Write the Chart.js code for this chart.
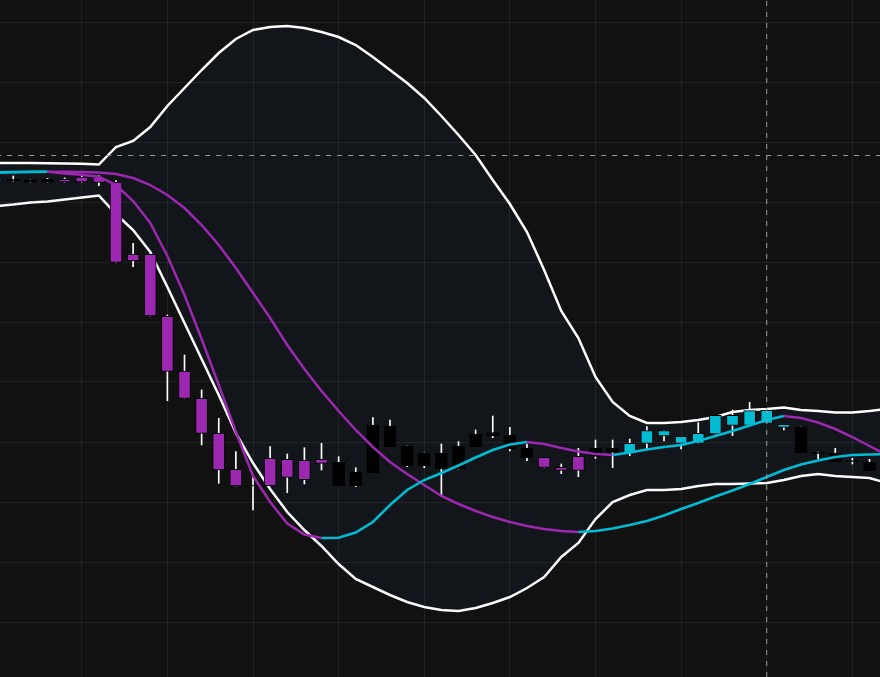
<!DOCTYPE html>
<html>
<head>
<meta charset="utf-8">
<title>Bollinger bands</title>
<script src="https://cdn.jsdelivr.net/npm/chart.js@4.4.1/dist/chart.umd.min.js"></script>
<style>
    html, body { margin: 0; padding: 0; background: #111111; overflow: hidden; }
    #chart { display: block; }
</style>
</head>
<body>
<canvas id="chart" width="880" height="677"></canvas>
<script>
// Session number of the first candle (it sits half off the left edge)
const firstSession = -1;

// Candles
const opens  = [50.2, 50.3, 50.25, 50.27, 50.27, 50.5, 50.5, 50.0, 42.77, 42.77, 36.57, 31.1, 28.37, 24.87, 21.27, 19.7, 22.37, 22.27, 22.17, 22.27, 21.97, 21.0, 20.93, 25.6, 23.6, 21.63, 22.9, 21.3, 23.53, 24.63, 24.7, 23.4, 22.47, 21.47, 22.57, 22.57, 23.37, 22.93, 23.87, 24.6, 23.87, 23.87, 24.8, 25.67, 25.67, 25.87, 25.47, 25.5, 23.0, 22.87, 22.13, 22.0];
const highs  = [50.4, 50.6, 50.25, 50.37, 50.4, 50.63, 50.63, 50.13, 43.87, 42.77, 36.7, 32.7, 29.2, 26.37, 23.03, 20.5, 23.53, 22.8, 23.43, 23.87, 22.53, 21.43, 26.43, 26.2, 23.6, 22.9, 23.8, 24.03, 25.2, 26.6, 25.47, 23.8, 22.47, 21.8, 23.37, 24.2, 24.2, 24.3, 25.53, 25.13, 24.57, 25.93, 26.67, 27.2, 27.97, 27.17, 25.77, 25.5, 23.0, 23.37, 22.37, 22.27];
const lows   = [50.2, 50.1, 49.95, 49.97, 50.0, 50.0, 49.63, 41.97, 41.53, 36.6, 28.13, 28.37, 23.7, 19.87, 19.6, 17.2, 19.63, 18.93, 19.8, 21.2, 19.63, 19.53, 20.93, 23.53, 21.53, 21.43, 18.6, 21.3, 23.53, 24.43, 23.1, 22.13, 21.47, 20.83, 20.53, 22.37, 21.43, 22.63, 23.3, 24.1, 23.3, 23.87, 24.8, 24.63, 25.67, 25.87, 25.2, 22.93, 22.3, 22.03, 21.8, 21.13];
const closes = [50.4, 50.1, 49.95, 49.97, 50.0, 50.0, 49.97, 41.97, 42.1, 36.6, 31.07, 28.37, 24.87, 21.2, 19.6, 19.6, 19.63, 20.47, 20.23, 21.87, 19.63, 19.63, 25.7, 23.53, 21.63, 22.9, 21.3, 23.6, 24.8, 24.93, 23.3, 22.43, 21.47, 21.17, 21.17, 23.37, 22.97, 23.87, 25.13, 25.13, 24.57, 24.87, 26.67, 26.67, 27.13, 27.17, 25.77, 22.93, 22.83, 22.03, 22.03, 21.13];
// -1 sell signal, 0 none, 1 buy signal
const signals = [1, 0, 0, 0, -1, -1, -1, -1, -1, -1, -1, -1, -1, -1, -1, 0, -1, -1, -1, -1, 0, 0, 0, 0, 0, 0, 0, 0, 0, 0, 0, 0, -1, -1, -1, 0, 0, 1, 1, 1, 1, 1, 1, 1, 1, 1, 1, 0, 0, 0, 0, 0];

// Indicators (one session longer than the candles)
const upperBand = [51.9, 51.9, 51.9, 51.87, 51.85, 51.82, 51.75, 53.5, 54.1, 55.5, 57.6, 59.4, 61.2, 62.9, 64.3, 65.2, 65.5, 65.6, 65.4, 65.0, 64.5, 63.7, 62.5, 61.2, 59.9, 58.4, 56.6, 54.7, 52.7, 50.2, 47.8, 45.0, 41.2, 37.1, 34.4, 30.5, 28.0, 26.6, 25.9, 25.9, 26.0, 26.2, 26.5, 27.0, 27.2, 27.3, 27.45, 27.2, 27.1, 26.95, 26.95, 27.1, 27.3];
const lowerBand = [47.6, 47.75, 47.95, 48.05, 48.25, 48.45, 48.65, 46.8, 45.2, 43.0, 39.5, 35.9, 32.3, 28.7, 24.9, 21.9, 19.3, 17.0, 15.2, 13.6, 11.8, 10.3, 9.5, 8.7, 8.0, 7.5, 7.2, 7.1, 7.4, 7.9, 8.5, 9.4, 10.5, 12.5, 13.9, 16.3, 18.0, 18.7, 19.2, 19.2, 19.3, 19.6, 19.8, 19.8, 19.85, 19.9, 20.2, 20.6, 20.8, 20.6, 20.5, 20.4, 19.9];
const fastMa = [50.95, 50.97, 51.0, 51.02, 50.85, 50.72, 50.53, 49.7, 48.1, 45.9, 42.6, 38.7, 34.3, 29.7, 25.0, 20.6, 18.0, 15.85, 14.75, 14.4, 14.43, 14.95, 16.0, 17.7, 19.2, 20.2, 20.9, 21.65, 22.45, 23.2, 23.75, 24.0, 23.8, 23.4, 23.05, 22.8, 22.7, 22.95, 23.25, 23.5, 23.7, 24.1, 24.6, 25.1, 25.65, 26.2, 26.6, 26.4, 25.95, 25.3, 24.5, 23.6, 22.7];
const slowMa = [50.98, 51.0, 51.02, 51.03, 51.02, 51.0, 50.95, 50.8, 50.4, 49.7, 48.7, 47.4, 45.7, 43.7, 41.4, 38.9, 36.4, 33.7, 31.3, 29.1, 27.1, 25.2, 23.5, 22.0, 20.8, 19.7, 18.6, 17.8, 17.1, 16.5, 16.0, 15.6, 15.3, 15.1, 15.0, 15.1, 15.35, 15.7, 16.1, 16.65, 17.3, 17.9, 18.55, 19.15, 19.8, 20.5, 21.2, 21.75, 22.15, 22.5, 22.7, 22.75, 22.8];

// Crosshair
const crossSession = 44;
const crossPrice = 52.65;

// Visible window and grid
const sessionRange = [-0.774, 50.613];
const priceRange = [0.5, 68.2];
const sessionGrid = [4, 9, 14, 19, 24, 29, 34, 39, 44, 49];
const priceGrid = [6, 12, 18, 24, 30, 36, 42, 48, 54, 60, 66];

const PURPLE = '#9c27b0';
const CYAN = '#00bcd4';
const signalColor = s => s > 0 ? CYAN : (s < 0 ? PURPLE : '#000000');

function toPoints(values) {
    return values.map((v, k) => ({ x: firstSession + k, y: v }));
}

function buildCandles() {
    const bodies = opens.map((o, k) => ({
        x: firstSession + k,
        y: [Math.min(o, closes[k]), Math.max(o, closes[k])]
    }));
    const wicks = highs.map((h, k) => ({ x: firstSession + k, y: [lows[k], h] }));
    return { bodies, wicks };
}

function trendLine(label, values) {
    return {
        type: 'line',
        label: label,
        data: toPoints(values),
        borderColor: PURPLE,
        borderWidth: 2.5,
        pointRadius: 0,
        tension: 0,
        order: 1,
        segment: {
            borderColor: ctx => ctx.p1.parsed.y > ctx.p0.parsed.y ? CYAN : PURPLE
        }
    };
}

function createChart() {
    const candles = buildCandles();
    const lastSession = firstSession + upperBand.length - 1;

    new Chart(document.getElementById('chart'), {
        type: 'bar',
        data: {
            datasets: [
                {
                    type: 'line',
                    label: 'crosshair price',
                    data: [{ x: firstSession, y: crossPrice }, { x: lastSession, y: crossPrice }],
                    borderColor: '#9a9a9a',
                    borderWidth: 1,
                    borderDash: [5, 6],
                    pointRadius: 0,
                    order: 0
                },
                {
                    type: 'line',
                    label: 'crosshair session',
                    data: [{ x: crossSession, y: priceRange[0] }, { x: crossSession, y: priceRange[1] }],
                    borderColor: '#9a9a9a',
                    borderWidth: 1,
                    borderDash: [5, 6],
                    pointRadius: 0,
                    order: 0
                },
                trendLine('fast MA', fastMa),
                trendLine('slow MA', slowMa),
                {
                    label: 'body',
                    data: candles.bodies,
                    backgroundColor: signals.map(signalColor),
                    borderColor: '#000000',
                    borderWidth: 1,
                    borderSkipped: false,
                    barThickness: 12,
                    grouped: false,
                    order: 2
                },
                {
                    label: 'wick',
                    data: candles.wicks,
                    backgroundColor: '#ffffff',
                    borderWidth: 0,
                    barThickness: 1,
                    grouped: false,
                    order: 3
                },
                {
                    type: 'line',
                    label: 'upper band',
                    data: toPoints(upperBand),
                    borderColor: '#ffffff',
                    borderWidth: 2.5,
                    pointRadius: 0,
                    tension: 0,
                    fill: '+1',
                    backgroundColor: 'rgba(40, 110, 170, 0.065)',
                    order: 4
                },
                {
                    type: 'line',
                    label: 'lower band',
                    data: toPoints(lowerBand),
                    borderColor: '#ffffff',
                    borderWidth: 2.5,
                    pointRadius: 0,
                    tension: 0,
                    order: 4
                }
            ]
        },
        options: {
            responsive: false,
            animation: false,
            devicePixelRatio: 1,
            layout: { padding: 0, autoPadding: false },
            plugins: {
                legend: { display: false },
                tooltip: { enabled: false }
            },
            scales: {
                x: {
                    type: 'linear',
                    min: sessionRange[0],
                    max: sessionRange[1],
                    offset: false,
                    afterBuildTicks: scale => { scale.ticks = sessionGrid.map(v => ({ value: v })); },
                    ticks: { display: false },
                    border: { display: false },
                    grid: { color: 'rgba(255, 255, 255, 0.07)', drawTicks: false, offset: false }
                },
                y: {
                    type: 'linear',
                    min: priceRange[0],
                    max: priceRange[1],
                    afterBuildTicks: scale => { scale.ticks = priceGrid.map(v => ({ value: v })); },
                    ticks: { display: false },
                    border: { display: false },
                    grid: { color: 'rgba(255, 255, 255, 0.07)', drawTicks: false }
                }
            }
        }
    });
}

document.addEventListener('DOMContentLoaded', createChart);
</script>
</body>
</html>
